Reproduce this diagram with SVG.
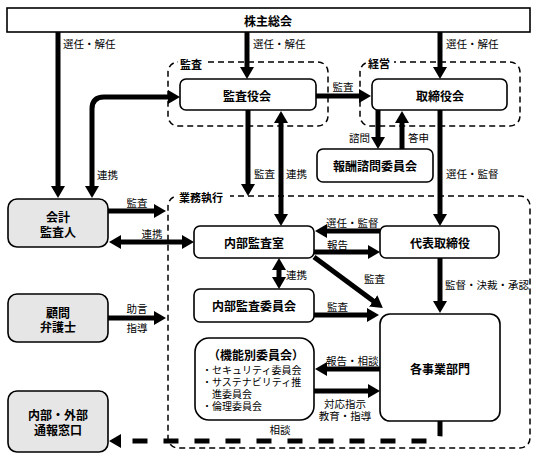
<svg xmlns="http://www.w3.org/2000/svg" width="539" height="458" viewBox="0 0 539 458">
<defs>
<style>
text{font-family:"Noto Sans CJK JP","Noto Sans",sans-serif;fill:#000;dominant-baseline:central}
.node{fill:#fff;stroke:#000;stroke-width:1.6}
.gray{fill:#e6e6e6;stroke:#000;stroke-width:1.6}
.grp{fill:none;stroke:#000;stroke-width:1.5;stroke-dasharray:6 4}
.nl{font-size:12px;font-weight:bold;text-anchor:middle}
.gl{font-size:11px;font-weight:bold}
.lb{font-size:10.5px}
.lc{font-size:10.5px;text-anchor:middle}
.ll{font-size:10px}
.c{fill:none;stroke:#000;stroke-width:5}
.ce{marker-end:url(#ah)}
.cb{marker-start:url(#ah);marker-end:url(#ah)}
.dash{stroke-dasharray:15 16}
</style>
<marker id="ah" viewBox="0 0 12 14" refX="1" refY="7" markerWidth="12" markerHeight="14" markerUnits="userSpaceOnUse" orient="auto-start-reverse">
<path d="M0,0 L12,7 L0,14 z" fill="#000"/>
</marker>
</defs>

<g id="groups">
<g id="grp-kansa">
<rect class="grp" x="168" y="62" width="160" height="64" rx="10"/>
<rect x="178" y="57" width="28" height="13" fill="#fff"/>
<text class="gl" x="180" y="64">監査</text>
</g>
<g id="grp-keiei">
<rect class="grp" x="360" y="62" width="160" height="64" rx="10"/>
<rect x="366" y="57" width="28" height="13" fill="#fff"/>
<text class="gl" x="368" y="63">経営</text>
</g>
<g id="grp-gyomu">
<rect class="grp" x="168" y="196" width="362" height="252" rx="10"/>
<rect x="176" y="190" width="54" height="13" fill="#fff"/>
<text class="gl" x="179" y="197">業務執行</text>
</g>
</g>

<g id="connectors">
<path class="c ce" d="M58,32 V187"/>
<path class="c ce" d="M247,32 V68"/>
<path class="c ce" d="M440,32 V68"/>
<path class="c cb" d="M92,187 V109 Q92,97 104,97 H169"/>
<path class="c ce" d="M316,96 H360"/>
<path class="c ce" d="M248,110 V185"/>
<path class="c cb" d="M281,122 V215"/>
<path class="c ce" d="M378,110 V138"/>
<path class="c ce" d="M402,149 V122"/>
<path class="c ce" d="M440,110 V215"/>
<path class="c ce" d="M108,211 H155"/>
<path class="c cb" d="M120,242 H183"/>
<path class="c ce" d="M380,231 H326"/>
<path class="c ce" d="M314,252 H369"/>
<path class="c cb" d="M279,269 V278"/>
<path class="c ce" d="M314,257 L374,301.5"/>
<path class="c ce" d="M440,258 V302"/>
<path class="c ce" d="M314,315 H368"/>
<path class="c ce" d="M380,369 H326"/>
<path class="c ce" d="M314,391 H369"/>
<path class="c ce" d="M108,318 H155"/>
<path class="c ce dash" d="M440,421 V435 Q440,441 434,441 H120"/>

<text class="lb" x="63" y="43">選任・解任</text>
<text class="lb" x="253" y="43">選任・解任</text>
<text class="lb" x="446" y="43">選任・解任</text>
<text class="lc" x="343" y="86">監査</text>
<text class="lb" x="97" y="174">連携</text>
<text class="lb" x="254" y="173">監査</text>
<text class="lb" x="286" y="173">連携</text>
<text class="lb" x="349" y="137">諮問</text>
<text class="lb" x="408" y="137">答申</text>
<text class="lb" x="446" y="173">選任・監督</text>
<text class="lc" x="137" y="202">監査</text>
<text class="lc" x="152" y="233">連携</text>
<text class="lb" x="326" y="222">選任・監督</text>
<text class="lb" x="327" y="244">報告</text>
<text class="lb" x="286" y="274">連携</text>
<text class="lb" x="364" y="278">監査</text>
<text class="lb" x="445" y="284">監督・決裁・承認</text>
<text class="lb" x="327" y="306">監査</text>
<text class="lb" x="326" y="360">報告・相談</text>
<text class="lc" x="345" y="403">対応指示</text>
<text class="lc" x="345" y="415">教育・指導</text>
<text class="lc" x="137" y="308">助言</text>
<text class="lc" x="137" y="327">指導</text>
<text class="lc" x="280" y="429">相談</text>
</g>

<g id="n-kabunushi">
<rect class="node" x="7" y="8" width="523" height="24"/>
<text class="nl" x="268" y="20">株主総会</text>
</g>
<g id="n-kansayakukai">
<rect class="node" x="180" y="79" width="136" height="31" rx="6"/>
<text class="nl" x="247" y="95">監査役会</text>
</g>
<g id="n-torishimariyakukai">
<rect class="node" x="372" y="79" width="135" height="31" rx="6"/>
<text class="nl" x="440" y="95">取締役会</text>
</g>
<g id="n-hoshu">
<rect class="node" x="317" y="149" width="116" height="33" rx="6"/>
<text class="nl" x="375" y="165">報酬諮問委員会</text>
</g>
<g id="n-kaikei">
<rect class="gray" x="8" y="199" width="100" height="48" rx="9"/>
<text class="nl" x="58" y="216">会計<tspan x="58" dy="15">監査人</tspan></text>
</g>
<g id="n-naibukansashitsu">
<rect class="node" x="194" y="226" width="120" height="32" rx="6"/>
<text class="nl" x="254" y="242">内部監査室</text>
</g>
<g id="n-daihyo">
<rect class="node" x="380" y="226" width="119" height="32" rx="6"/>
<text class="nl" x="440" y="242">代表取締役</text>
</g>
<g id="n-naibuiinkai">
<rect class="node" x="194" y="289" width="120" height="33" rx="6"/>
<text class="nl" x="254" y="305">内部監査委員会</text>
</g>
<g id="n-komon">
<rect class="gray" x="8" y="294" width="100" height="48" rx="9"/>
<text class="nl" x="58" y="312">顧問<tspan x="58" dy="14">弁護士</tspan></text>
</g>
<g id="n-kakujigyo">
<rect class="node" x="380" y="314" width="120" height="107" rx="10"/>
<text class="nl" x="440" y="368">各事業部門</text>
</g>
<g id="n-kinobetsu">
<rect class="node" x="195" y="338" width="119" height="82" rx="14"/>
<text class="nl" x="256" y="354">（機能別委員会）</text>
<text class="ll" x="202" y="369">・セキュリティ委員会<tspan x="202" dy="12">・サステナビリティ推</tspan><tspan x="212" dy="12">進委員会</tspan><tspan x="202" dy="12">・倫理委員会</tspan></text>
</g>
<g id="n-tsuho">
<rect class="gray" x="8" y="391" width="100" height="61" rx="9"/>
<text class="nl" x="58" y="414">内部・外部<tspan x="58" dy="15">通報窓口</tspan></text>
</g>
</svg>
